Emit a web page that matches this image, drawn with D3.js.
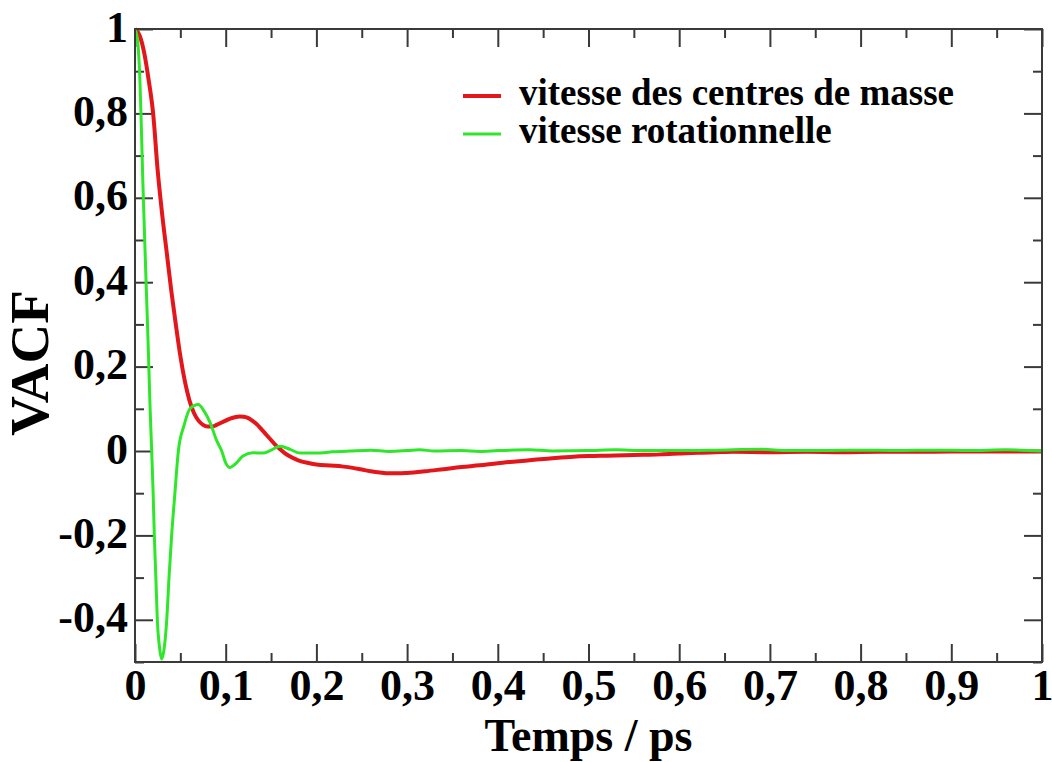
<!DOCTYPE html>
<html>
<head>
<meta charset="utf-8">
<script src="https://cdn.jsdelivr.net/npm/d3@7"></script>
<style>
  html, body { margin: 0; padding: 0; background: #fff; }
  svg { display: block; }
  text { font-family: "Liberation Serif", "Times New Roman", serif; font-weight: bold; fill: #000; }
</style>
</head>
<body>
<svg id="chart" width="1052" height="762"></svg>
<script>
// ---- data ----
const redT = [0, 0.005, 0.01, 0.015, 0.02, 0.025, 0.03, 0.035, 0.04, 0.045, 0.05, 0.055, 0.06, 0.065, 0.07, 0.075, 0.08, 0.085, 0.09, 0.095, 0.10, 0.105, 0.11, 0.115, 0.12, 0.125, 0.13, 0.135, 0.14, 0.145, 0.15, 0.155, 0.16, 0.165, 0.17, 0.18, 0.19, 0.2, 0.21, 0.22, 0.23, 0.24, 0.25, 0.26, 0.27, 0.28, 0.29, 0.30, 0.32, 0.34, 0.36, 0.38, 0.40, 0.42, 0.44, 0.46, 0.48, 0.50, 0.52, 0.54, 0.56, 0.58, 0.60, 0.62, 0.64, 0.66, 0.70, 0.74, 0.78, 0.82, 0.86, 0.90, 0.94, 0.98, 1.0];
const redV = [1.0, 0.985, 0.945, 0.88, 0.80, 0.665, 0.56, 0.47, 0.38, 0.30, 0.225, 0.165, 0.12, 0.09, 0.072, 0.062, 0.058, 0.058, 0.062, 0.067, 0.072, 0.077, 0.080, 0.082, 0.081, 0.078, 0.071, 0.062, 0.050, 0.038, 0.026, 0.014, 0.004, -0.005, -0.012, -0.022, -0.028, -0.032, -0.034, -0.035, -0.037, -0.040, -0.044, -0.048, -0.051, -0.053, -0.053, -0.052, -0.048, -0.043, -0.038, -0.034, -0.029, -0.025, -0.021, -0.017, -0.014, -0.012, -0.011, -0.010, -0.009, -0.008, -0.006, -0.004, -0.003, -0.002, -0.003, -0.002, -0.003, -0.002, -0.002, -0.001, -0.001, -0.001, -0.001];

const greenT = [0, 0.003, 0.0048, 0.0092, 0.011, 0.013, 0.0147, 0.0165, 0.0184, 0.02, 0.0213, 0.023, 0.0246, 0.027, 0.0294, 0.032, 0.035, 0.0375, 0.0404, 0.044, 0.0478, 0.054, 0.0606, 0.0698, 0.076, 0.0827, 0.09, 0.0956, 0.1, 0.1047, 0.11, 0.119, 0.13, 0.141, 0.15, 0.16, 0.171, 0.182, 0.2, 0.218, 0.237, 0.26, 0.28, 0.30, 0.314, 0.33, 0.36, 0.38, 0.40, 0.435, 0.46, 0.5, 0.53, 0.56, 0.6, 0.64, 0.69, 0.72, 0.76, 0.8, 0.84, 0.88, 0.92, 0.96, 1.0];
const greenV = [1.0, 0.97, 0.91, 0.60, 0.48, 0.35, 0.24, 0.11, 0.0, -0.1, -0.2, -0.3, -0.4, -0.465, -0.493, -0.47, -0.40, -0.30, -0.2, -0.1, 0.0, 0.06, 0.1, 0.11, 0.095, 0.068, 0.025, 0.0, -0.028, -0.039, -0.032, -0.012, -0.004, -0.005, 0.002, 0.011, 0.004, -0.005, -0.005, -0.002, 0.0, 0.002, -0.001, 0.001, 0.003, 0.0, 0.001, -0.001, 0.001, 0.003, 0.0, 0.001, 0.003, 0.001, 0.001, 0.002, 0.004, 0.001, 0.001, 0.002, 0.001, 0.002, 0.001, 0.003, 0.0];

const seriesNames = ["vitesse des centres de masse", "vitesse rotationnelle"];
const seriesColors = ["#e3171b", "#2ee62a"];

const xMajor = [0, 0.1, 0.2, 0.3, 0.4, 0.5, 0.6, 0.7, 0.8, 0.9, 1];
const xLabels = ["0", "0,1", "0,2", "0,3", "0,4", "0,5", "0,6", "0,7", "0,8", "0,9", "1"];
const xMinor = [0.05, 0.15, 0.25, 0.35, 0.45, 0.55, 0.65, 0.75, 0.85, 0.95];
const yMajor = [-0.4, -0.2, 0, 0.2, 0.4, 0.6, 0.8, 1];
const yLabels = ["-0,4", "-0,2", "0", "0,2", "0,4", "0,6", "0,8", "1"];
const yMinor = [-0.5, -0.3, -0.1, 0.1, 0.3, 0.5, 0.7, 0.9];

const xTitle = "Temps / ps";
const yTitle = "VACF";

// ---- layout ----
const L = 135, R = 1042, T = 29, B = 662;
const svg = d3.select("#chart");
const x = d3.scaleLinear().domain([0, 1]).range([L, R]);
const y = d3.scaleLinear().domain([-0.5, 1]).range([B, T]);

const axisColor = "#3a3a3a";
const majorLen = 18, minorLen = 9;

function styleAxis(g) {
  g.select(".domain").remove();
  g.selectAll(".tick line").attr("stroke", axisColor).attr("stroke-width", 2);
}

// bottom
svg.append("g").attr("transform", `translate(0,${B})`)
  .call(d3.axisBottom(x).tickValues(xMajor).tickSize(-majorLen).tickFormat((d, i) => xLabels[i]))
  .call(styleAxis)
  .call(g => g.selectAll(".tick text").attr("dy", null).attr("y", 38)
    .style("font-size", "44px").style("font-family", "'Liberation Serif', serif").style("font-weight", "bold").attr("fill", "#000"));
svg.append("g").attr("transform", `translate(0,${B})`)
  .call(d3.axisBottom(x).tickValues(xMinor).tickSize(-minorLen).tickFormat(""))
  .call(styleAxis);
// top
svg.append("g").attr("transform", `translate(0,${T})`)
  .call(d3.axisTop(x).tickValues(xMajor).tickSize(-majorLen).tickFormat(""))
  .call(styleAxis);
svg.append("g").attr("transform", `translate(0,${T})`)
  .call(d3.axisTop(x).tickValues(xMinor).tickSize(-minorLen).tickFormat(""))
  .call(styleAxis);
// left
svg.append("g").attr("transform", `translate(${L},0)`)
  .call(d3.axisLeft(y).tickValues(yMajor).tickSize(-majorLen).tickFormat((d, i) => yLabels[i]))
  .call(styleAxis)
  .call(g => g.selectAll(".tick text").attr("dy", null).attr("x", -7).attr("y", 12)
    .style("font-size", "44px").style("font-family", "'Liberation Serif', serif").style("font-weight", "bold").attr("fill", "#000"));
svg.append("g").attr("transform", `translate(${L},0)`)
  .call(d3.axisLeft(y).tickValues(yMinor).tickSize(-minorLen).tickFormat(""))
  .call(styleAxis);
// right
svg.append("g").attr("transform", `translate(${R},0)`)
  .call(d3.axisRight(y).tickValues(yMajor).tickSize(-majorLen).tickFormat(""))
  .call(styleAxis);
svg.append("g").attr("transform", `translate(${R},0)`)
  .call(d3.axisRight(y).tickValues(yMinor).tickSize(-minorLen).tickFormat(""))
  .call(styleAxis);

// clip
svg.append("clipPath").attr("id", "plotclip").append("rect")
  .attr("x", L).attr("y", T - 2).attr("width", R - L).attr("height", B - T + 4);

const line = d3.line().x(d => x(d[0])).y(d => y(d[1])).curve(d3.curveMonotoneX);
const redData = redT.map((t, i) => [t, redV[i]]);
const greenData = greenT.map((t, i) => [t, greenV[i]]);

svg.append("path").datum(redData).attr("clip-path", "url(#plotclip)")
  .attr("d", line).attr("fill", "none").attr("stroke", seriesColors[0]).attr("stroke-width", 4).attr("stroke-linejoin", "round");
svg.append("path").datum(greenData).attr("clip-path", "url(#plotclip)")
  .attr("d", line).attr("fill", "none").attr("stroke", seriesColors[1]).attr("stroke-width", 3).attr("stroke-linejoin", "round");

// frame
svg.append("rect").attr("x", L).attr("y", T).attr("width", R - L).attr("height", B - T)
  .attr("fill", "none").attr("stroke", axisColor).attr("stroke-width", 2);

// legend
const legY = [96, 134];
seriesNames.forEach((name, i) => {
  svg.append("line").attr("x1", 463).attr("x2", 501).attr("y1", legY[i]).attr("y2", legY[i])
    .attr("stroke", seriesColors[i]).attr("stroke-width", i === 0 ? 4 : 3);
  svg.append("text").attr("x", 519).attr("y", legY[i] + 9)
    .style("font-size", "37px").text(name);
});

// titles
svg.append("text").attr("x", (L + R) / 2).attr("y", 751).attr("text-anchor", "middle")
  .style("font-size", "46px").text(xTitle);
svg.append("text").attr("transform", `translate(48,363) rotate(-90)`).attr("text-anchor", "middle")
  .style("font-size", "55px").text(yTitle);
</script>
</body>
</html>
